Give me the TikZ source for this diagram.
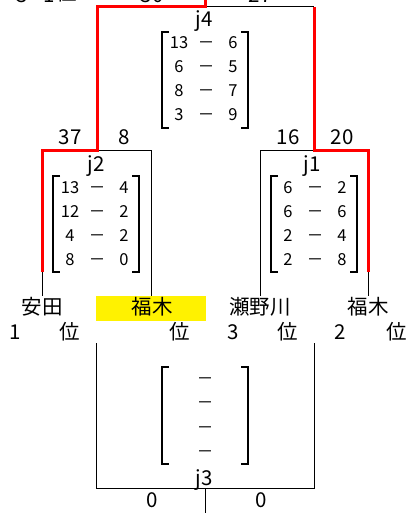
\documentclass[tikz,border=0pt]{standalone}
\usepackage{fontspec}
\setmainfont{Noto Sans CJK JP}
\tikzset{
  win/.style={draw=red, line width=3pt},
  lose/.style={draw=black, line width=1pt},
  brk/.style={draw=black, line width=2pt},
  score/.style={font=\fontsize{20.5}{20.5}\selectfont, anchor=base, inner sep=0pt},
  cell/.style={font=\fontsize{16.5}{16.5}\selectfont, anchor=base, inner sep=0pt},
  jlab/.style={font=\fontsize{20.5}{20.5}\selectfont, anchor=base, inner sep=0pt},
  pname/.style={font=\fontsize{20.5}{20.5}\selectfont, inner sep=0pt},
  hilite/.style={fill=yellow, draw=none},
}
% #1 left x, #2 top y, #3 name, #4 list a/b
\newcommand\drawmatrix[4]{%
  \draw[brk] (#1+7,#2) -- (#1,#2) -- (#1,#2+96) -- (#1+7,#2+96);
  \draw[brk] (#1+79,#2) -- (#1+86,#2) -- (#1+86,#2+96) -- (#1+79,#2+96);
  \foreach \a/\b [count=\i] in {#4} {
    \node[cell] (#3a\i) at (#1+17, #2+17+24*\i-24) {\a};
    \node[cell] (#3d\i) at (#1+44, #2+17+24*\i-24) {－};
    \node[cell] (#3b\i) at (#1+71, #2+17+24*\i-24) {\b};
  }%
}
\begin{document}
\begin{tikzpicture}[x=1pt,y=-1pt]
\useasboundingbox (0,0) rectangle (409,513);

% coordinates
\coordinate (top) at (205,0);
\coordinate (f4L) at (97,7);
\coordinate (f4M) at (205,7);
\coordinate (f4R) at (314,7);
\coordinate (j2T) at (97,151);
\coordinate (j2L) at (42,151);
\coordinate (j2R) at (151,151);
\coordinate (j1T) at (314,151);
\coordinate (j1L) at (260,151);
\coordinate (j1R) at (368,151);
\coordinate (p1m) at (42,272);
\coordinate (p4m) at (368,272);
\coordinate (p1) at (42,296);
\coordinate (p2) at (151,296);
\coordinate (p3) at (260,296);
\coordinate (p4) at (368,296);
\coordinate (j3Lt) at (96,343);
\coordinate (j3Lb) at (96,488);
\coordinate (j3Rt) at (314,343);
\coordinate (j3Rb) at (314,488);
\coordinate (j3M) at (205,488);
\coordinate (j3B) at (205,513);

% highlight
\fill[hilite] (96,296) rectangle (206,321);

% black lines
\draw[lose] (f4M) -- (f4R);
\draw[lose] (j2T) -- (j2R) -- (p2);
\draw[lose] (p3) -- (j1L) -- (j1T);
\draw[lose] (p1m) -- (p1);
\draw[lose] (p4m) -- (p4);
\draw[lose] (j3Lt) -- (j3Lb) -- (j3Rb) -- (j3Rt);
\draw[lose] (j3M) -- (j3B);

% red winning path
\draw[win] (p1m) -- (j2L) -- (j2T) -- (f4L) -- (f4M) -- (top);
\draw[win] (p4m) -- (j1R) -- (j1T) -- (f4R);

% top partial texts (cut off by the top edge, as in the reference)
\node[score] (t3) at (22,2.5) {3};
\node[score] (t1) at (49,2.5) {1};
\node[pname, anchor=base] (tpos) at (67,1) {位};
\node[score] (s30) at (152,2.5) {30};
\node[score] (s27) at (260,2.5) {27};

% j4
\node[jlab] (j4) at (204,27) {j4};
\drawmatrix{162}{32}{m4}{13/6,6/5,8/7,3/9}
% j2
\node[score] (s37) at (70,145) {37};
\node[score] (s8) at (124,145) {8};
\node[jlab] (j2) at (96,171) {j2};
\drawmatrix{53}{176}{m2}{13/4,12/2,4/2,8/0}
% j1
\node[score] (s16) at (288,145) {16};
\node[score] (s20) at (342,145) {20};
\node[jlab] (j1) at (312,171) {j1};
\drawmatrix{271}{176}{m1}{6/2,6/6,2/4,2/8}

% names
\node[pname] (n1) at (42,307) {安田};
\node[pname] (n2) at (152,307) {福木};
\node[pname] (n3) at (260,307) {瀬野川};
\node[pname] (n4) at (368,307) {福木};
\node[score] (r1) at (15,339) {1};
\node[pname] (q1) at (70,332) {位};
\node[pname] (q2) at (180,332) {位};
\node[score] (r3) at (233,339) {3};
\node[pname] (q3) at (288,332) {位};
\node[score] (r4) at (340,339) {2};
\node[pname] (q4) at (397,332) {位};

% j3
\draw[brk] (169,367) -- (162,367) -- (162,464) -- (169,464);
\draw[brk] (241,367) -- (248,367) -- (248,464) -- (241,464);
\foreach \i/\yy in {1/384.5,2/408.5,3/433,4/457} {
  \node[cell] (m3d\i) at (205,\yy) {－};
}
\node[jlab] (j3) at (204,485) {j3};
\node[score] (s0a) at (152,507) {0};
\node[score] (s0b) at (261,507) {0};
\end{tikzpicture}
\end{document}
